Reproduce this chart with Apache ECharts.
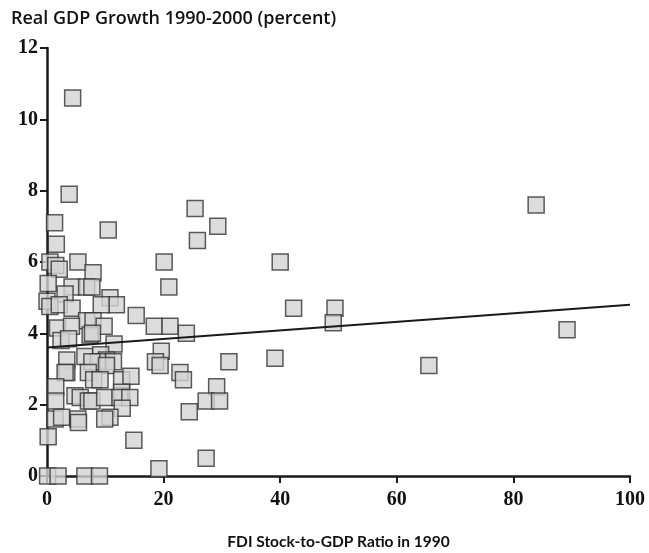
<!DOCTYPE html>
<html>
<head>
<meta charset="utf-8">
<script src="https://cdn.jsdelivr.net/npm/echarts@6/dist/echarts.min.js"></script>
<style>
html,body{margin:0;padding:0;background:#fff;}
#chart{width:649px;height:553px;}
</style>
</head>
<body>
<div id="chart"></div>
<script>
// FDI stock-to-GDP ratio (1990) vs real GDP growth 1990-2000 (percent)
const outlierPoints = [
  [4.4,10.6],[3.8,7.9],[1.3,7.1],[10.5,6.9],[1.6,6.5],
  [25.4,7.5],[29.3,7.0],[25.8,6.6],[20.1,6.0],[40.0,6.0],[20.9,5.3],
  [42.3,4.7],[49.4,4.7],[49.1,4.3],[15.3,4.5],[18.4,4.2],[21.1,4.2],[23.9,4.0],
  [19.6,3.5],[18.6,3.2],[19.4,3.1],[31.2,3.2],[39.1,3.3],[22.8,2.9],[23.4,2.7],
  [29.1,2.5],[27.3,2.1],[29.6,2.1],[24.4,1.8],[27.3,0.5],[19.2,0.2],[14.9,1.0],
  [65.5,3.1],[83.9,7.6],[89.2,4.1]
];
const clusterPoints = [
  [0.5,6.0],[1.5,5.9],[2.1,5.8],[5.3,6.0],[7.9,5.7],
  [0.2,5.4],[4.3,5.3],[6.8,5.3],[7.7,5.3],[3.1,5.1],[0.0,4.9],[0.5,4.75],[2.1,4.8],[4.3,4.7],
  [10.8,5.0],[11.9,4.8],[9.3,4.8],[6.8,4.35],[7.9,4.35],[1.8,4.15],[4.2,4.2],[9.8,4.2],
  [2.4,3.8],[3.7,3.85],[7.4,3.95],[7.8,4.0],[11.5,3.7],
  [3.4,3.25],[6.5,3.35],[9.2,3.4],[10.2,3.25],[8.8,3.2],[7.7,3.2],[11.4,3.2],[10.2,3.1],
  [3.4,2.9],[3.1,2.9],[7.1,2.9],[8.0,2.7],[9.1,2.7],[12.8,2.7],[14.4,2.8],[12.8,2.35],
  [1.5,2.5],[1.5,2.1],[4.8,2.25],[5.7,2.2],[7.1,2.1],[7.7,2.1],[9.9,2.2],[12.5,2.2],[14.2,2.2],
  [12.9,1.9],[10.8,1.65],[9.9,1.6],[1.4,1.6],[2.5,1.65],[5.3,1.6],[5.4,1.5],[0.2,1.1]
];
const zeroPoints = [[0.1,0],[1.9,0],[6.5,0],[9.0,0]];
const trendLine = [[0,3.6],[100,4.8]];
const xTicks = {min:0, max:100, interval:20};
const yTicks = {min:0, max:12, interval:2};
const titleText = 'Real GDP Growth 1990-2000 (percent)';
const xName = 'FDI Stock-to-GDP Ratio in 1990';

const chart = echarts.init(document.getElementById('chart'), null, {renderer:'canvas'});
const tickFont = {fontFamily:'Liberation Serif', fontWeight:'bold', fontSize:20, color:'#111'};
const squareStyle = {color:'#d3d3d3', borderColor:'#333', borderWidth:1.5};
chart.setOption({
  animation:false,
  backgroundColor:'#fff',
  title:{text:titleText, left:6, top:5,
    textStyle:{fontFamily:'Open Sans', fontWeight:600, fontSize:18, color:'#111'}},
  grid:{left:47, right:19, top:48, bottom:77, containLabel:false, outerBoundsMode:'none'},
  xAxis:{type:'value', min:xTicks.min, max:xTicks.max, interval:xTicks.interval,
    name:xName, nameLocation:'middle', nameGap:58,
    nameTextStyle:{fontFamily:'Lato', fontWeight:700, fontSize:15.5, color:'#111'},
    axisLine:{show:true, onZero:false, lineStyle:{color:'#1a1a1a', width:2.5}},
    axisTick:{show:true, inside:false, length:7, lineStyle:{color:'#1a1a1a', width:2}},
    axisLabel:Object.assign({margin:14}, tickFont),
    splitLine:{show:false}},
  yAxis:{type:'value', min:yTicks.min, max:yTicks.max, interval:yTicks.interval,
    axisLine:{show:true, onZero:false, lineStyle:{color:'#1a1a1a', width:2.5}},
    axisTick:{show:true, inside:false, length:7, lineStyle:{color:'#1a1a1a', width:2}},
    axisLabel:Object.assign({margin:9}, tickFont),
    splitLine:{show:false}},
  series:[
    {type:'scatter', data:clusterPoints.concat(outlierPoints, zeroPoints), symbol:'rect', symbolSize:16,
      itemStyle:squareStyle, z:2, clip:false},
    {type:'line', data:trendLine, showSymbol:false, symbol:'none',
      lineStyle:{color:'#1a1a1a', width:2}, z:3}
  ]
});
</script>
</body>
</html>
